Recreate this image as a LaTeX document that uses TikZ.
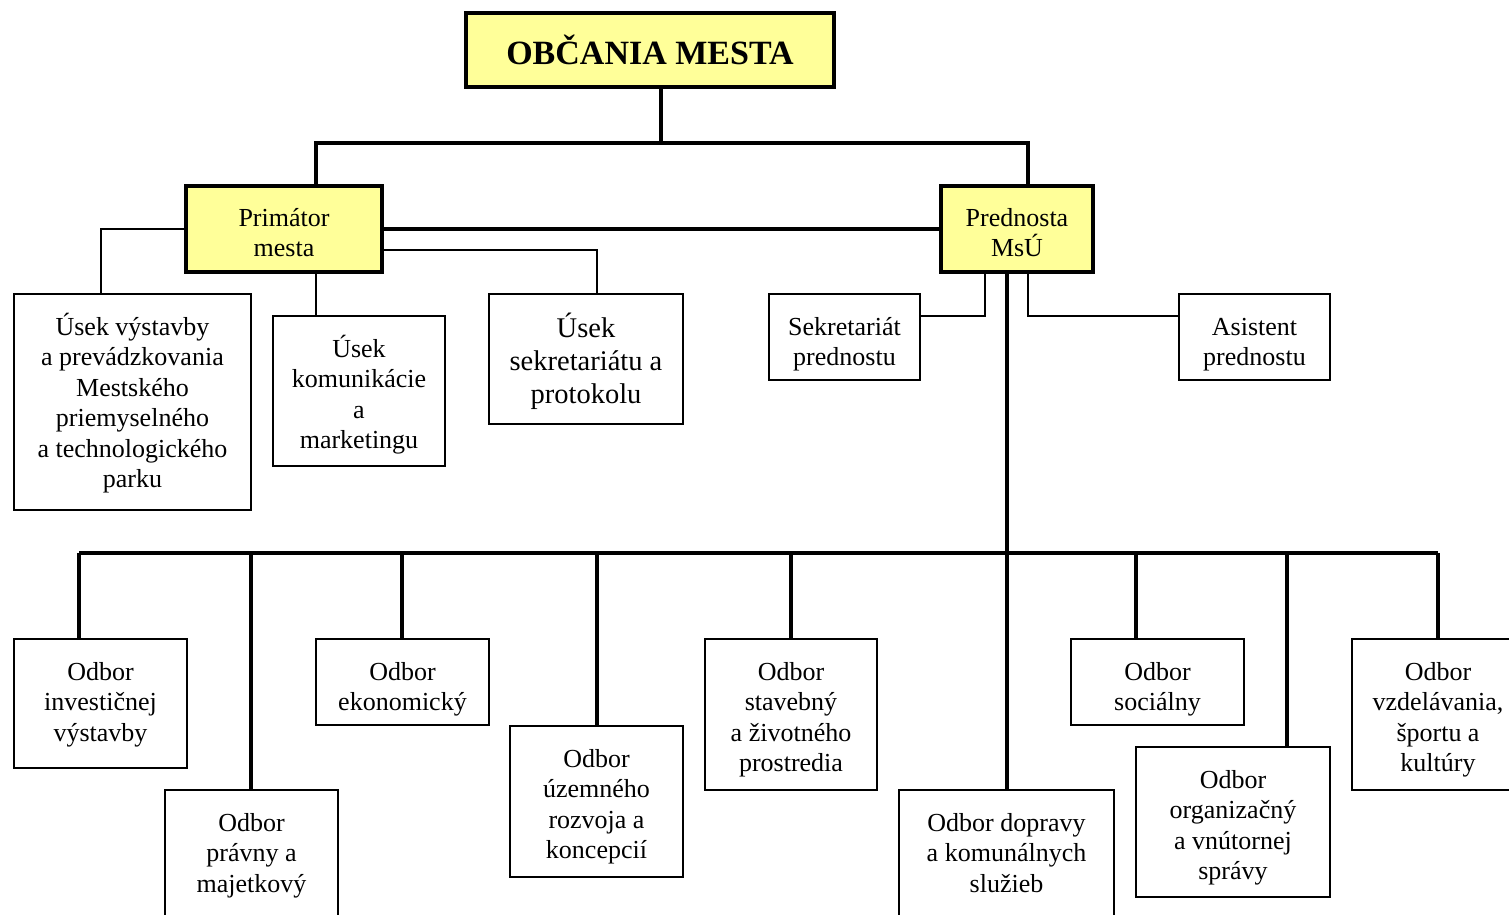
\documentclass[tikz,border=0pt]{standalone}
\usepackage{fontspec}
\setmainfont{Liberation Serif}
\definecolor{headyellow}{HTML}{FFFF99}
% one organisational unit: empty frame plus its text set from the top edge
\newcommand\orgunit[7][unit]{%
  \node[#1, minimum width=#5pt, minimum height=#6pt] (#2) at (#3,#4) {};
  \node[txt, anchor=north] (#2-t) at ([yshift=-15.7pt]#2.north) {\rule{0pt}{26pt}#7};
}
\begin{document}
\begin{tikzpicture}[x=1pt,y=-1pt,
  unit/.style={draw, line width=1.6pt, fill=white, inner sep=0pt},
  head/.style={unit, fill=headyellow, line width=3.8pt},
  txt/.style={inner sep=0pt, align=center, font=\fontsize{26}{30.5}\selectfont},
  heavy/.style={line width=3.4pt},
  light/.style={line width=1.6pt}]
\useasboundingbox (0,0) rectangle (1509,915);

% top level
\node[head, minimum width=368pt, minimum height=74pt, align=center,
  font=\fontsize{34}{38}\selectfont\bfseries] (title) at (650,50) {OBČANIA MESTA};
\orgunit[head]{prim}{284}{229}{196}{86}{Primátor\\mesta}
\orgunit[head]{pred}{1017}{229}{152}{86}{Prednosta\\MsÚ}

% units under the mayor
\orgunit{usekv}{132.5}{402}{237}{216}
  {Úsek výstavby\\a prevádzkovania\\Mestského\\priemyselného\\a technologického\\parku}
\orgunit{komun}{359}{391}{172}{150}{Úsek\\komunikácie\\a\\marketingu}
\node[unit, minimum width=194pt, minimum height=130pt] (usekr) at (586,359) {};
\node[txt, anchor=north, font=\fontsize{28.5}{33}\selectfont] (usekr-t)
  at ([yshift=-15.1pt]usekr.north) {\rule{0pt}{28.5pt}Úsek\\sekretariátu a\\protokolu};

% units under the head of office
\orgunit{sekr}{844.5}{337}{151}{86}{Sekretariát\\prednostu}
\orgunit{asist}{1254.5}{337}{151}{86}{Asistent\\prednostu}

% departments
\orgunit{odinv}{100.5}{703.5}{173}{129}{Odbor\\investičnej\\výstavby}
\orgunit{odpra}{251.5}{853.5}{173}{127}{Odbor\\právny a\\majetkový}
\orgunit{odeko}{402.5}{682}{173}{86}{Odbor\\ekonomický}
\orgunit{oduz}{596.5}{801.5}{173}{151}{Odbor\\územného\\rozvoja a\\koncepcií}
\orgunit{odsta}{791}{714.5}{172}{151}{Odbor\\stavebný\\a životného\\prostredia}
\orgunit{oddop}{1006.5}{853.5}{215}{127}{Odbor dopravy\\a komunálnych\\služieb}
\orgunit{odsoc}{1157.5}{682}{173}{86}{Odbor\\sociálny}
\orgunit{odorg}{1233}{822}{194}{150}{Odbor\\organizačný\\a vnútornej\\správy}
\orgunit{odvzd}{1438}{714.5}{172}{151}{Odbor\\vzdelávania,\\športu a\\kultúry}

% junction points
\coordinate (j0) at (661,143);
\coordinate (jl) at (316,143);
\coordinate (jr) at (1028,143);
\coordinate (jb) at (1007,553);
\foreach \n/\x in {b1/79, b2/251, b3/402, b4/597, b5/791, b6/1007, b7/1136, b8/1287, b9/1438}
  \coordinate (\n) at (\x,553);

% upper connectors
\draw[heavy] (title.south -| j0) -- (j0);
\draw[heavy] (prim.north -| jl) -- (jl) -- (jr) -- (pred.north -| jr);
\draw[heavy] (prim.east) -- (pred.west);
\draw[light] ([yshift=-21pt]prim.east) -| ([xshift=11pt]usekr.north);
\draw[light] (prim.west) -| ([xshift=-31.5pt]usekv.north);
\draw[light] (prim.south -| jl) -- (komun.north -| jl);
\draw[light] ([xshift=-32pt]pred.south) |- ([yshift=21pt]sekr.east);
\draw[light] (pred.south -| jr) |- ([yshift=21pt]asist.west);
\draw[heavy] (pred.south -| jb) -- (jb);

% department bus and drops
\draw[heavy] (b1) -- (b9);
\foreach \b/\n in {b1/odinv, b2/odpra, b3/odeko, b4/oduz, b5/odsta, b6/oddop, b7/odsoc, b8/odorg, b9/odvzd}
  \draw[heavy] (\b) -- (\n.north -| \b);
\end{tikzpicture}
\end{document}
